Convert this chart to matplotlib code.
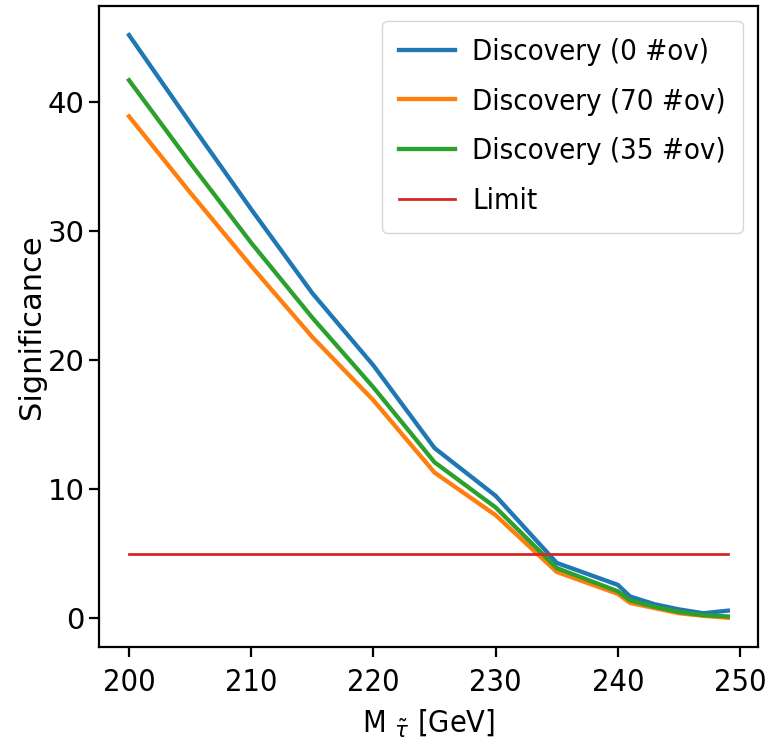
import matplotlib
matplotlib.use("Agg")
import matplotlib.pyplot as plt
from matplotlib import font_manager as fm

# Stop mass points [GeV]
mass = [200, 205, 210, 215, 220, 225, 230, 235, 240, 241, 243, 245, 247, 249]

# Discovery significance for different pile-up (#ov) scenarios
sig_ov0 = [45.2, 38.4, 31.7, 25.2, 19.6, 13.2, 9.5, 4.3, 2.6, 1.7, 1.1, 0.7, 0.4, 0.6]
sig_ov70 = [38.9, 33.0, 27.3, 21.8, 16.9, 11.3, 8.0, 3.6, 1.9, 1.2, 0.8, 0.4, 0.2, 0.05]
sig_ov35 = [41.7, 35.3, 29.1, 23.3, 17.9, 12.1, 8.6, 3.9, 2.1, 1.4, 0.9, 0.5, 0.25, 0.15]

limit_value = 5
labels = ["Discovery (0 #ov)", "Discovery (70 #ov)", "Discovery (35 #ov)", "Limit"]

# Narrow font for tick labels / legend if one is installed
fonts = fm.fontManager.ttflist
if any(f.name == "DejaVu Sans" and "condensed" in str(f.stretch) for f in fonts):
    narrow = dict(family="DejaVu Sans", stretch="condensed")
elif any(f.name == "Liberation Sans Narrow" for f in fonts):
    narrow = dict(family="Liberation Sans Narrow")
else:
    narrow = dict(family="DejaVu Sans")

fig = plt.figure(figsize=(7.74, 7.41), dpi=100)
ax = fig.add_axes([0.128, 0.127, 0.851, 0.865])

ax.plot(mass, sig_ov0, color="tab:blue", lw=3.1, label=labels[0])
ax.plot(mass, sig_ov70, color="tab:orange", lw=3.1, label=labels[1])
ax.plot(mass, sig_ov35, color="tab:green", lw=3.1, label=labels[2])
ax.plot([mass[0], mass[-1]], [limit_value, limit_value], color="tab:red",
        lw=2.0, label=labels[3])

ax.set_xticks([200, 210, 220, 230, 240, 250])
ax.set_yticks([0, 10, 20, 30, 40])
ax.tick_params(length=7, width=1.6)
ax.tick_params(axis="x", pad=8)
for s in ax.spines.values():
    s.set_linewidth(1.6)

for t in ax.get_xticklabels():
    t.set_fontsize(22)
    t.set_fontfamily(narrow["family"])
    if "stretch" in narrow:
        t.set_fontstretch(narrow["stretch"])
for t in ax.get_yticklabels():
    t.set_fontsize(21)

ax.set_ylabel("Significance", fontsize=22, labelpad=1)
ax.set_xlabel(r"M $_{\tilde{\tau}}$ [GeV]", labelpad=8,
              fontproperties=fm.FontProperties(size=22, **narrow))

leg = ax.legend(loc="upper right", prop=fm.FontProperties(size=21, **narrow),
                handlelength=1.9, handletextpad=0.6, labelspacing=0.75,
                borderpad=0.59, borderaxespad=0.5)

fig.savefig("out.png", dpi=100)
